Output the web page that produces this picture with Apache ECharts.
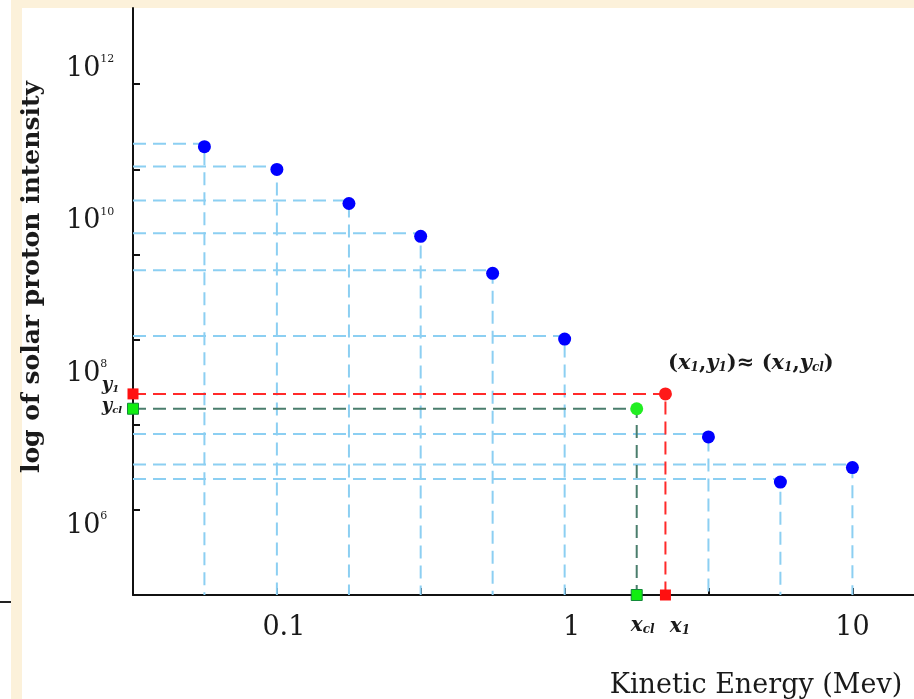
<!DOCTYPE html>
<html>
<head>
<meta charset="utf-8">
<title>Solar proton intensity</title>
<script src="https://cdn.jsdelivr.net/npm/echarts@6/dist/echarts.min.js"></script>
<style>
  html, body { margin: 0; padding: 0; background: #fff; }
  #main { width: 914px; height: 699px; }
</style>
</head>
<body>
<div id="main"></div>
<script>
// values (energy in MeV, intensity in particles)
var energy = [0.056, 0.1, 0.178, 0.316, 0.562, 1, 3.16, 5.62, 10];
var intensity = [2.0e11, 1.08e11, 4.3e10, 1.77e10, 6.5e9, 1.1e9, 7.8e7, 2.3e7, 3.4e7];
var pointX1 = [2.24, 2.3e8];    // (x1, y1)  red
var pointXcl = [1.78, 1.54e8];  // (xcl, ycl) green
// axis ticks / labels, as powers of ten
var xTicks = [-1, -0.5, 0, 0.5, 1];
var xLabels = [-1, 0, 1];
var yTicks = [7, 8, 9, 10, 11, 12];
var yLabels = [6, 8, 10, 12];

var X_MIN = -1.5, X_MAX = 1.214, Y_MIN = 6, Y_MAX = 12.894;
var serif = '"DejaVu Serif", serif';
var ink = '#1a1a1a';
var lg = Math.log10;

var pts = energy.map(function (e, i) { return [lg(e), lg(intensity[i])]; });
var red = [lg(pointX1[0]), lg(pointX1[1])];
var green = [lg(pointXcl[0]), lg(pointXcl[1])];

// L shaped guide: from y axis to the point, then down to x axis
function guide(p) { return [[X_MIN, p[1]], [p[0], p[1]], [p[0], Y_MIN]]; }

var subRich = {
  i: { fontFamily: serif, fontStyle: 'italic', fontWeight: 'bold', fontSize: 20, color: ink, verticalAlign: 'bottom', lineHeight: 22 },
  s: { fontFamily: serif, fontStyle: 'italic', fontWeight: 'bold', fontSize: 12, color: ink, verticalAlign: 'bottom', lineHeight: 18 },
  iy: { fontFamily: serif, fontStyle: 'italic', fontWeight: 'bold', fontSize: 18, color: ink, verticalAlign: 'bottom', lineHeight: 20 },
  sy: { fontFamily: serif, fontStyle: 'italic', fontWeight: 'bold', fontSize: 10, color: ink, verticalAlign: 'bottom', lineHeight: 15 },
  b: { fontFamily: serif, fontWeight: 'bold', fontSize: 21, color: ink, verticalAlign: 'bottom', lineHeight: 23 },
  bi: { fontFamily: serif, fontWeight: 'bold', fontStyle: 'italic', fontSize: 21, color: ink, verticalAlign: 'bottom', lineHeight: 23 },
  bs: { fontFamily: serif, fontWeight: 'bold', fontStyle: 'italic', fontSize: 12, color: ink, verticalAlign: 'bottom', lineHeight: 18 }
};

var series = [];
pts.forEach(function (p) {
  series.push({
    type: 'line', data: guide(p), symbol: 'none', silent: true, z: 2,
    lineStyle: { color: '#8ccff2', width: 2, type: [13, 7] }
  });
});
series.push({
  type: 'line', data: guide(green), symbol: 'none', silent: true, z: 3,
  lineStyle: { color: '#4a7d6c', width: 2, type: [13, 7] }
});
series.push({
  type: 'line', data: guide(red), symbol: 'none', silent: true, z: 3,
  lineStyle: { color: '#ff2a2a', width: 2, type: [13, 7] }
});
series.push({
  type: 'scatter', data: pts, symbol: 'circle', symbolSize: 13, symbolOffset: [0, 3], z: 5,
  itemStyle: { color: '#0000ff', opacity: 1 }
});
series.push({
  type: 'scatter', symbol: 'circle', symbolSize: 13, z: 5, clip: false,
  data: [
    { value: green, itemStyle: { color: '#22ee22', opacity: 1 } },
    {
      value: red, itemStyle: { color: '#ff1a1a', opacity: 1 },
      label: {
        show: true, position: [92, -25], align: 'center', verticalAlign: 'middle', rich: subRich,
        formatter: '{b|(}{bi|x}{bs|1}{b|,}{bi|y}{bs|1}{b|)≈ (}{bi|x}{bs|1}{b|,}{bi|y}{bs|cl}{b|)}'
      }
    }
  ]
});
// square markers on the axes
series.push({
  type: 'scatter', symbol: 'rect', symbolSize: 11, z: 6, clip: false,
  itemStyle: { opacity: 1 },
  data: [
    {
      value: [X_MIN, green[1]], itemStyle: { color: '#11ee11', borderColor: '#138a3a', borderWidth: 1, opacity: 1 },
      label: { show: true, position: [-15, 3], align: 'center', verticalAlign: 'middle', rich: subRich, formatter: '{iy|y}{sy|cl}' }
    },
    {
      value: [green[0], Y_MIN], itemStyle: { color: '#11ee11', borderColor: '#138a3a', borderWidth: 1, opacity: 1 },
      label: { show: true, position: [12, 36], align: 'center', verticalAlign: 'middle', rich: subRich, formatter: '{i|x}{s|cl}' }
    },
    {
      value: [X_MIN, red[1]], itemStyle: { color: '#ff1010', opacity: 1 },
      label: { show: true, position: [-17, -4], align: 'center', verticalAlign: 'middle', rich: subRich, formatter: '{iy|y}{sy|1}' }
    },
    {
      value: [red[0], Y_MIN], itemStyle: { color: '#ff1010', opacity: 1 },
      label: { show: true, position: [20, 36], align: 'center', verticalAlign: 'middle', rich: subRich, formatter: '{i|x}{s|1}' }
    }
  ]
});

var chart = echarts.init(document.getElementById('main'));
chart.setOption({
  animation: false,
  backgroundColor: '#ffffff',
  grid: { left: 133, right: 0, top: 8, bottom: 104, containLabel: false, outerBoundsMode: 'none' },
  xAxis: {
    type: 'value', min: X_MIN, max: X_MAX,
    axisLine: { onZero: false, lineStyle: { color: '#111', width: 2 } },
    axisTick: { inside: true, length: 7, customValues: xTicks, lineStyle: { color: '#111', width: 2 } },
    axisLabel: {
      customValues: xLabels, margin: 19,
      // printed numbers sit a little right of their ticks below 10
      formatter: function (v) {
        return (v < 1 ? '{o|' : '{t|') + String(Math.pow(10, v)) + '}';
      },
      rich: {
        o: { fontFamily: serif, fontSize: 27, color: ink, padding: [0, 0, 0, 14] },
        t: { fontFamily: serif, fontSize: 27, color: ink }
      }
    },
    splitLine: { show: false }
  },
  yAxis: [
    {
      type: 'value', min: Y_MIN, max: Y_MAX,
      axisLine: { show: true, onZero: false, lineStyle: { color: '#111', width: 2 } },
      axisTick: { show: true, inside: true, length: 7, customValues: yTicks, lineStyle: { color: '#111', width: 2 } },
      axisLabel: { show: false },
      splitLine: { show: false }
    },
    {
      // label-only axis: the printed powers sit on their own spacing
      type: 'value', position: 'left', min: 5.096, max: 12.8,
      axisLine: { show: false, onZero: false }, axisTick: { show: false }, splitLine: { show: false },
      axisLabel: {
        customValues: yLabels, margin: 67, align: 'left',
        formatter: function (v) { return '{n|10}{p|' + v + '}'; },
        rich: {
          n: { fontFamily: serif, fontSize: 27, color: ink, lineHeight: 30 },
          p: { fontFamily: serif, fontSize: 11, color: ink, verticalAlign: 'top', lineHeight: 14 }
        }
      }
    }
  ],
  graphic: [
    { type: 'rect', z: -1, shape: { x: 11, y: 0, width: 903, height: 8 }, style: { fill: '#fcf1da' } },
    { type: 'rect', z: -1, shape: { x: 11, y: 0, width: 11, height: 699 }, style: { fill: '#fcf1da' } },
    { type: 'line', shape: { x1: 0, y1: 602, x2: 11, y2: 602 }, style: { stroke: '#222', lineWidth: 2 } },
    {
      type: 'text', x: 32, y: 277, rotation: Math.PI / 2,
      style: {
        text: 'log of solar proton intensity', font: 'bold 25px "DejaVu Serif", serif',
        fill: ink, align: 'center', verticalAlign: 'middle'
      }
    },
    {
      type: 'text', x: 756, y: 686,
      style: {
        text: 'Kinetic Energy (Mev)', font: '27px "DejaVu Serif", serif',
        fill: ink, align: 'center', verticalAlign: 'middle'
      }
    }
  ],
  series: series
});
</script>
</body>
</html>
